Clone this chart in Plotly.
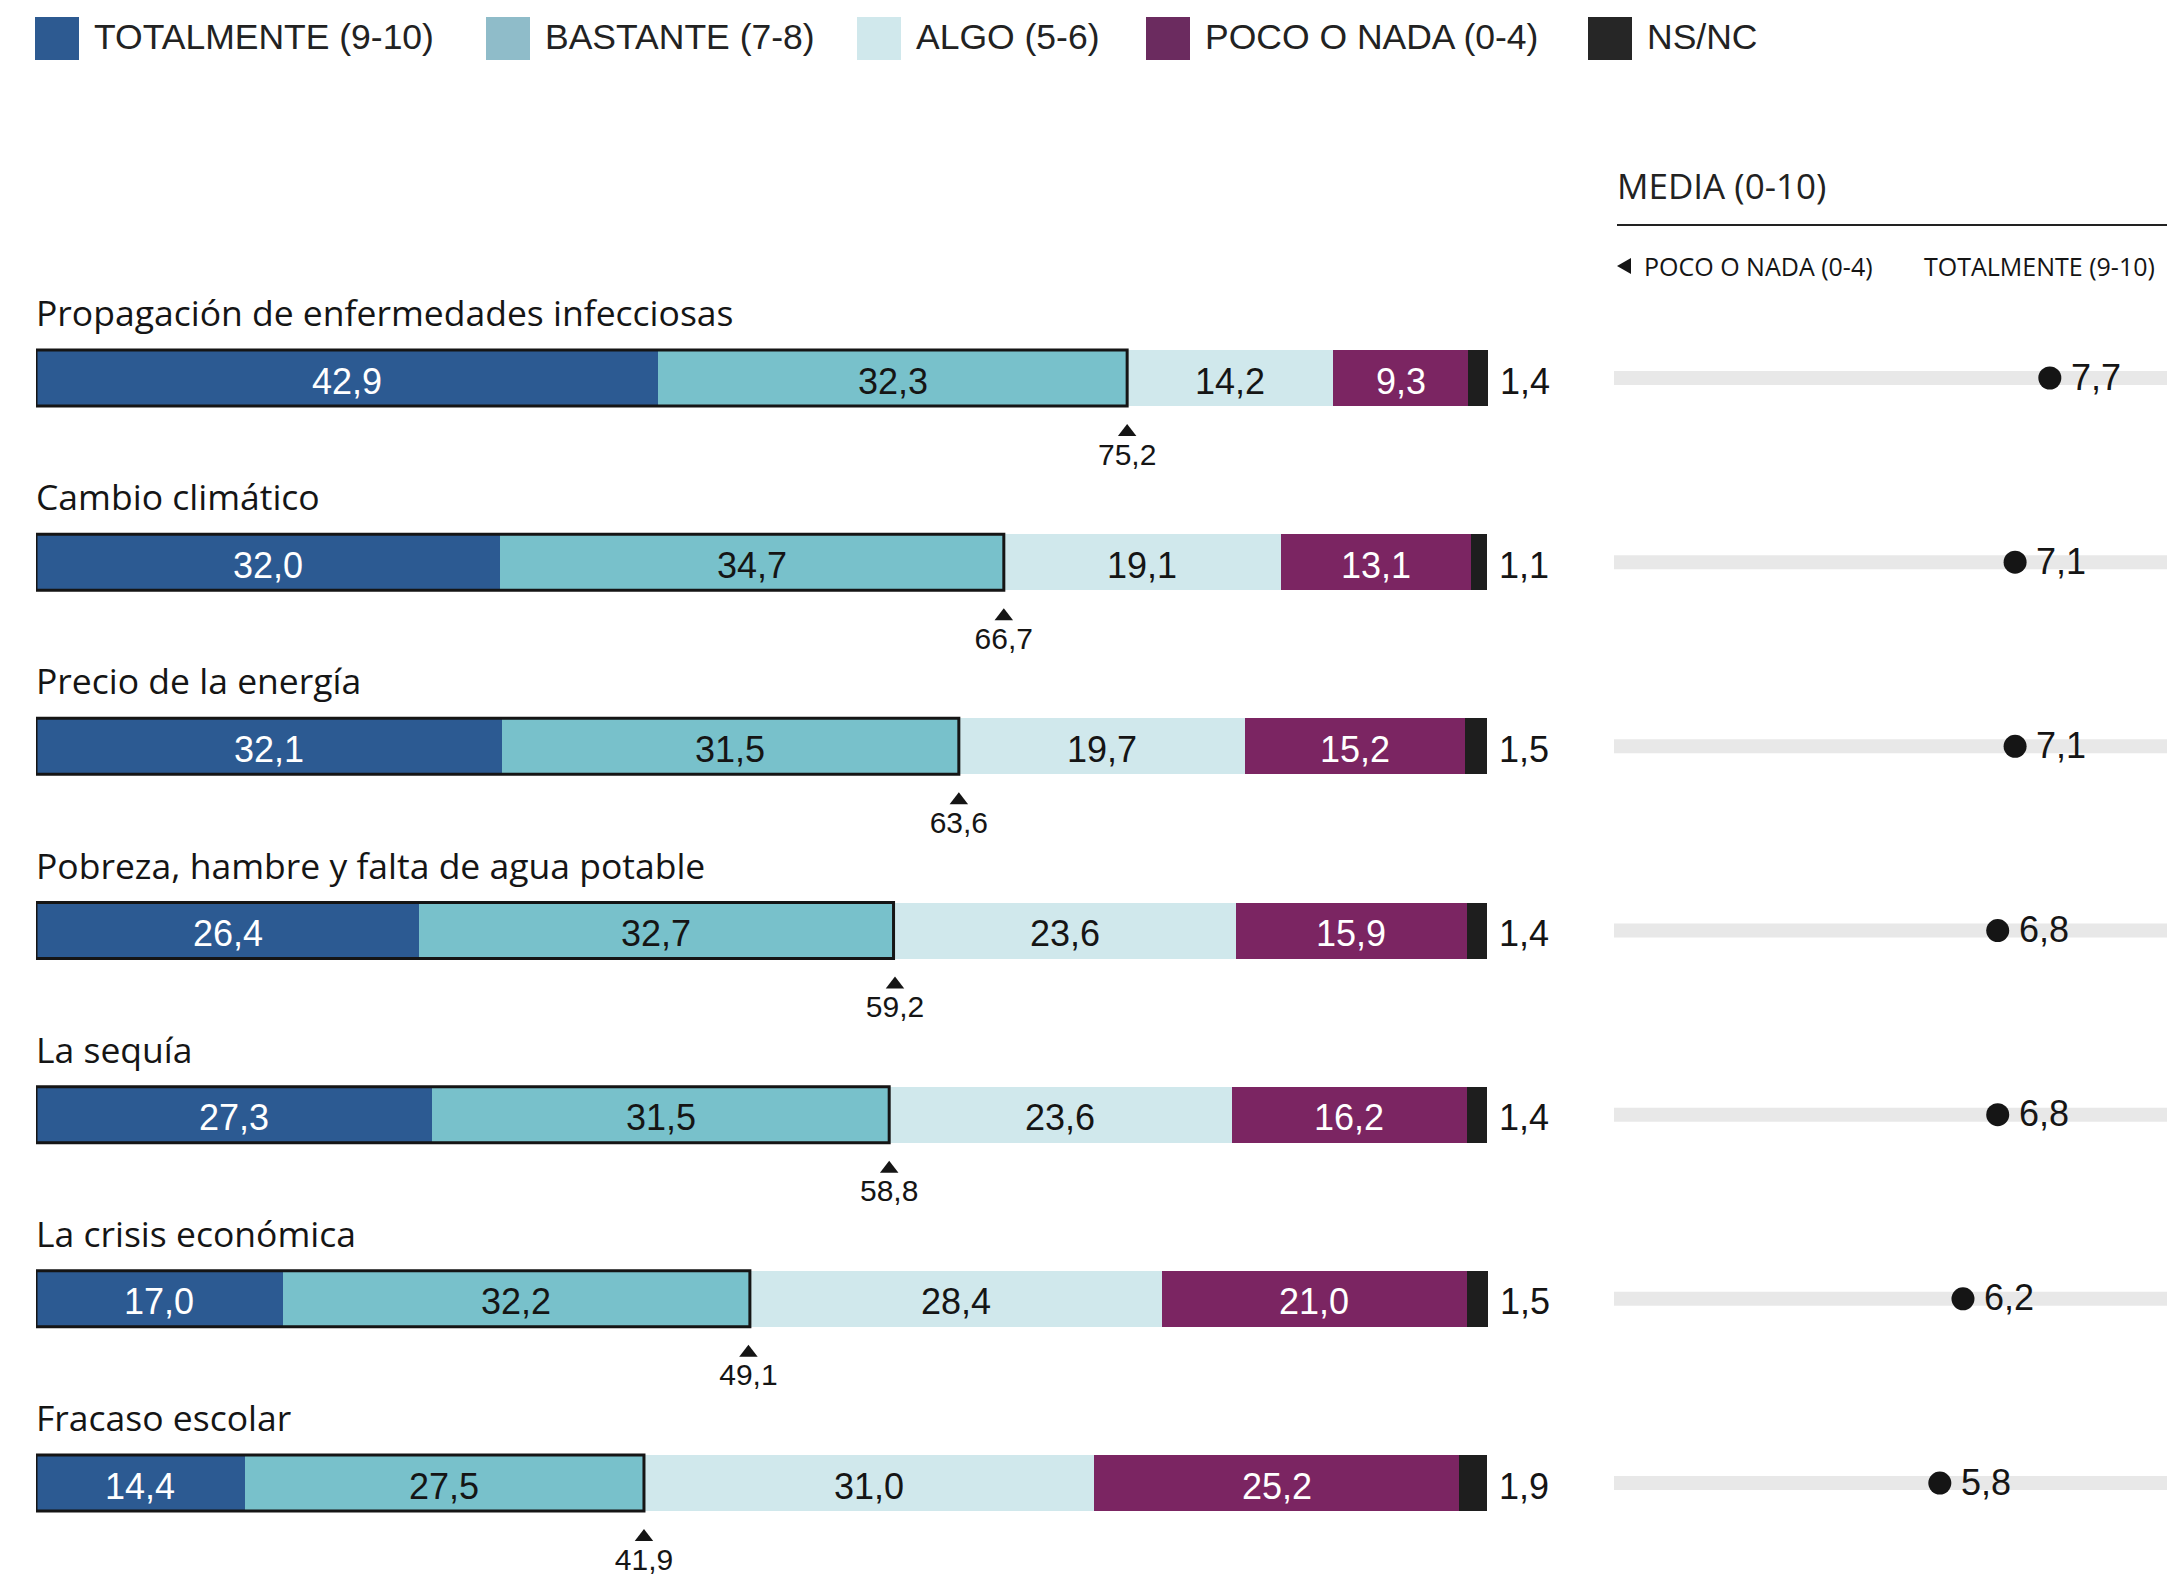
import plotly.graph_objects as go

# ---- data -------------------------------------------------------------
categories = [
    "Propagación de enfermedades infecciosas",
    "Cambio climático",
    "Precio de la energía",
    "Pobreza, hambre y falta de agua potable",
    "La sequía",
    "La crisis económica",
    "Fracaso escolar",
]
totalmente = [42.9, 32.0, 32.1, 26.4, 27.3, 17.0, 14.4]
bastante = [32.3, 34.7, 31.5, 32.7, 31.5, 32.2, 27.5]
algo = [14.2, 19.1, 19.7, 23.6, 23.6, 28.4, 31.0]
poco = [9.3, 13.1, 15.2, 15.9, 16.2, 21.0, 25.2]
nsnc = [1.4, 1.1, 1.5, 1.4, 1.4, 1.5, 1.9]
# share of "totalmente" + "bastante", as published
positivo = [75.2, 66.7, 63.6, 59.2, 58.8, 49.1, 41.9]
media = [7.7, 7.1, 7.1, 6.8, 6.8, 6.2, 5.8]

legend_labels = ["TOTALMENTE (9-10)", "BASTANTE (7-8)", "ALGO (5-6)",
                 "POCO O NADA (0-4)", "NS/NC"]

# ---- style --------------------------------------------------------------
W, H = 2167, 1579
NUM_FONT = "Liberation Sans"
LABEL_FONT = "Open Sans"
INK = "#151515"

bar_colors = ["#2c5a92", "#78c1cb", "#d0e8ec", "#7b2562", "#1e1e1e"]
legend_colors = ["#2d5a91", "#8fbcc9", "#d0e8ec", "#6b2b5f", "#262626"]
text_colors = ["white", INK, INK, "white", None]

ROW0_PX, ROW_STEP = 378, 184.17      # pixel centre of first row, spacing
BAR_H = 56 / ROW_STEP                # bar thickness in row units
TRACK_H = 14 / ROW_STEP
BAR_LEFT_PX, PX_PER_PCT = 36, 14.51  # 100 % spans 1451 px
X_AXIS_RIGHT_PX = 1600               # room for the NS/NC values


def fmt(v):
    return f"{v:.1f}".replace(".", ",")


def px_x(p):
    return p / W


def px_y(p):
    return 1 - p / H


rows = list(range(len(categories)))
fig = go.Figure()
annotations = []

# ---- stacked bars --------------------------------------------------------
series = [totalmente, bastante, algo, poco, nsnc]
bases = [0.0] * len(rows)
for name, vals, col, tcol in zip(legend_labels, series, bar_colors, text_colors):
    fig.add_trace(go.Bar(
        orientation="h", y=rows, x=vals, name=name,
        width=BAR_H,
        marker=dict(color=col, line=dict(width=0)),
        hoverinfo="skip", showlegend=False,
        xaxis="x", yaxis="y",
    ))
    if tcol:
        for i, v in enumerate(vals):
            annotations.append(dict(
                x=bases[i] + v / 2, y=i, xref="x", yref="y",
                xanchor="center", yanchor="middle", yshift=-3,
                text=fmt(v), showarrow=False,
                font=dict(family=NUM_FONT, size=36, color=tcol)))
    bases = [b + v for b, v in zip(bases, vals)]

# outline around the positive block (totalmente + bastante)
for i in rows:
    fig.add_shape(type="rect", xref="x", yref="y",
                  x0=0, x1=totalmente[i] + bastante[i],
                  y0=i - BAR_H / 2, y1=i + BAR_H / 2,
                  line=dict(color=INK, width=3),
                  fillcolor="rgba(0,0,0,0)", layer="above")

# marker + value of the positive share under each bar
fig.add_trace(go.Scatter(
    x=positivo, y=[i + 54 / ROW_STEP for i in rows], mode="markers",
    marker=dict(symbol="triangle-up", size=16, color=INK),
    cliponaxis=False, hoverinfo="skip", showlegend=False,
    xaxis="x", yaxis="y"))
fig.add_trace(go.Scatter(
    x=positivo, y=[i + 79 / ROW_STEP for i in rows], mode="text",
    text=[fmt(v) for v in positivo], textposition="middle center",
    textfont=dict(family=NUM_FONT, size=30, color=INK),
    cliponaxis=False, hoverinfo="skip", showlegend=False,
    xaxis="x", yaxis="y"))

# NS/NC value to the right of each bar, category title above each bar
for i in rows:
    annotations.append(dict(
        x=bases[i], y=i, xref="x", yref="y", xanchor="left", yanchor="middle",
        xshift=10, yshift=-3, text=fmt(nsnc[i]), showarrow=False,
        font=dict(family=NUM_FONT, size=36, color=INK)))
    annotations.append(dict(
        x=px_x(34), y=i - 66 / ROW_STEP, xref="paper", yref="y",
        xanchor="left", yanchor="middle", text=categories[i], showarrow=False,
        font=dict(family=LABEL_FONT, size=35.5, color=INK)))

# ---- mean score panel -----------------------------------------------------
for i in rows:
    fig.add_shape(type="rect", xref="x2 domain", yref="y",
                  x0=0, x1=1, y0=i - TRACK_H / 2, y1=i + TRACK_H / 2,
                  line=dict(width=0), fillcolor="#e8e8e8", layer="below")

fig.add_trace(go.Scatter(
    x=media, y=rows, mode="markers",
    marker=dict(symbol="circle", size=23, color=INK),
    cliponaxis=False, hoverinfo="skip", showlegend=False,
    xaxis="x2", yaxis="y"))
for i in rows:
    annotations.append(dict(
        x=media[i], y=i, xref="x2", yref="y", xanchor="left",
        yanchor="middle", xshift=19, yshift=1, text=fmt(media[i]),
        showarrow=False, font=dict(family=NUM_FONT, size=36, color=INK)))

annotations.append(dict(
    x=px_x(1615), y=px_y(186), xref="paper", yref="paper",
    xanchor="left", yanchor="middle", text="MEDIA (0-10)", showarrow=False,
    font=dict(family=LABEL_FONT, size=35, color="#222")))
fig.add_shape(type="line", xref="paper", yref="paper",
              x0=px_x(1617), x1=1, y0=px_y(225), y1=px_y(225),
              line=dict(color="#222", width=2))
fig.add_shape(type="path", xref="paper", yref="paper",
              path=(f"M {px_x(1617)},{px_y(266)} L {px_x(1631)},{px_y(258)} "
                    f"L {px_x(1631)},{px_y(274)} Z"),
              fillcolor=INK, line=dict(width=0))
annotations.append(dict(
    x=px_x(1642), y=px_y(266), xref="paper", yref="paper",
    xanchor="left", yanchor="middle", text="POCO O NADA (0-4)",
    showarrow=False, font=dict(family=LABEL_FONT, size=25, color=INK)))
annotations.append(dict(
    x=px_x(2157), y=px_y(266), xref="paper", yref="paper",
    xanchor="right", yanchor="middle", text="TOTALMENTE (9-10)",
    showarrow=False, font=dict(family=LABEL_FONT, size=25, color=INK)))

# ---- legend -----------------------------------------------------------------
legend_x = [35, 486, 857, 1146, 1588]
for lx, lab, col in zip(legend_x, legend_labels, legend_colors):
    fig.add_shape(type="rect", xref="paper", yref="paper",
                  x0=px_x(lx), x1=px_x(lx + 44), y0=px_y(17), y1=px_y(60),
                  fillcolor=col, line=dict(width=0))
    annotations.append(dict(
        x=px_x(lx + 57), y=px_y(37), xref="paper", yref="paper",
        xanchor="left", yanchor="middle", text=lab, showarrow=False,
        font=dict(family=NUM_FONT, size=35.5, color="#222")))

# ---- axes / layout ------------------------------------------------------------
y_top = (0 - ROW0_PX) / ROW_STEP
y_bottom = (H - ROW0_PX) / ROW_STEP
x2_zero_px, x2_unit_px, x2_left_px = 1604, 57.9, 1614

fig.update_layout(
    width=W, height=H,
    margin=dict(l=0, r=0, t=0, b=0),
    paper_bgcolor="white", plot_bgcolor="rgba(0,0,0,0)",
    barmode="stack",
    showlegend=False,
    annotations=annotations,
    xaxis=dict(domain=[px_x(BAR_LEFT_PX), px_x(X_AXIS_RIGHT_PX)],
               range=[0, (X_AXIS_RIGHT_PX - BAR_LEFT_PX) / PX_PER_PCT],
               visible=False, fixedrange=True, anchor="y"),
    xaxis2=dict(domain=[px_x(x2_left_px), 1],
                range=[(x2_left_px - x2_zero_px) / x2_unit_px,
                       (W - x2_zero_px) / x2_unit_px],
                visible=False, fixedrange=True, anchor="y"),
    yaxis=dict(domain=[0, 1], range=[y_bottom, y_top], visible=False,
               fixedrange=True),
)

fig.write_html("out.html")
